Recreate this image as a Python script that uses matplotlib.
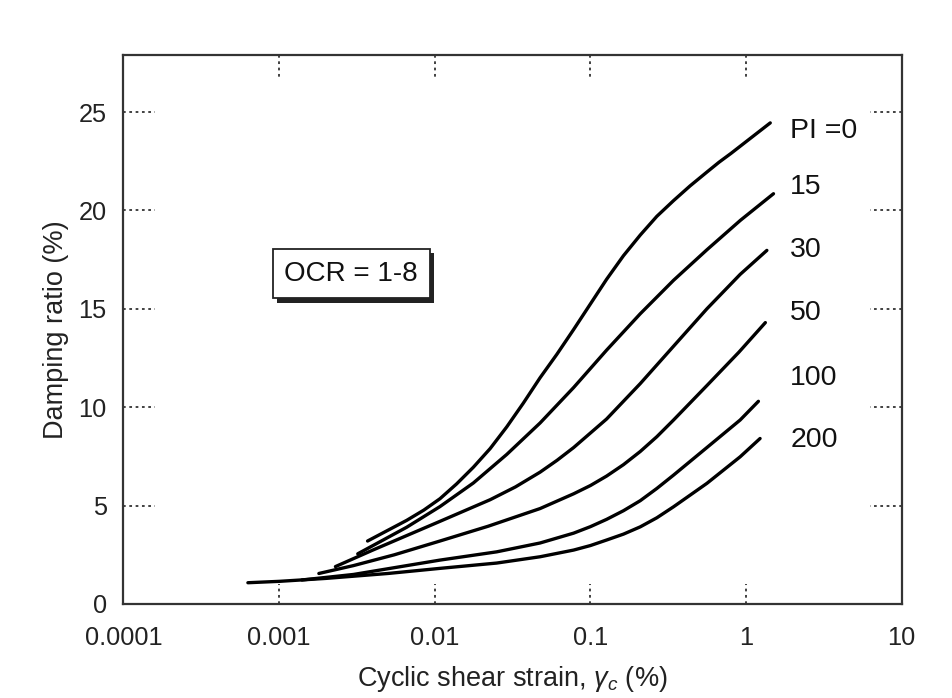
import numpy as np
import matplotlib
matplotlib.use("Agg")
import matplotlib.pyplot as plt
import matplotlib.patheffects as pe
from matplotlib.transforms import blended_transform_factory

plt.rcParams['font.family'] = ['Liberation Sans', 'DejaVu Sans']
plt.rcParams['mathtext.fontset'] = 'custom'
plt.rcParams['mathtext.rm'] = 'Liberation Sans'
plt.rcParams['mathtext.it'] = 'Liberation Sans:italic'

# damping curves (strain in %, damping in %)
pi_labels = ['PI =0', '15', '30', '50', '100', '200']

strain_pi0 = [0.0037, 0.0066, 0.0085, 0.0108, 0.0138, 0.0177, 0.0227, 0.029, 0.037, 0.0475, 0.061, 0.078,
              0.1, 0.127, 0.163, 0.209, 0.267, 0.342, 0.437, 0.56, 0.67, 0.8, 1.1, 1.43]
damp_pi0 = [3.2, 4.25, 4.77, 5.35, 6.1, 6.95, 7.9, 9.0, 10.2, 11.5, 12.7, 13.95,
            15.25, 16.5, 17.7, 18.75, 19.7, 20.5, 21.25, 21.95, 22.45, 22.9, 23.75, 24.45]

strain_pi15 = [0.0032, 0.0066, 0.0108, 0.0177, 0.029, 0.0475, 0.078, 0.127, 0.209, 0.342, 0.56, 0.92, 1.5]
damp_pi15 = [2.55, 3.9, 4.95, 6.15, 7.6, 9.2, 11.0, 12.9, 14.75, 16.45, 18.0, 19.5, 20.85]

strain_pi30 = [0.0023, 0.004, 0.0108, 0.0227, 0.033, 0.0475, 0.061, 0.078, 0.127, 0.209, 0.342, 0.56, 0.916, 1.36]
damp_pi30 = [1.9, 2.74, 4.2, 5.3, 5.95, 6.7, 7.3, 7.95, 9.4, 11.2, 13.1, 15.0, 16.75, 17.97]

strain_pi50 = [0.0018, 0.003, 0.0055, 0.0108, 0.022, 0.0475, 0.078, 0.1, 0.127, 0.163, 0.209, 0.267, 0.342,
               0.56, 0.9, 1.33]
damp_pi50 = [1.55, 1.95, 2.5, 3.2, 3.95, 4.85, 5.6, 6.02, 6.5, 7.08, 7.75, 8.5, 9.35,
             11.1, 12.8, 14.3]

strain_pi100 = [0.0014, 0.003, 0.0108, 0.025, 0.0475, 0.078, 0.1, 0.127, 0.163, 0.209, 0.267, 0.342,
                0.56, 0.916, 1.2]
damp_pi100 = [1.22, 1.5, 2.23, 2.65, 3.1, 3.6, 3.93, 4.3, 4.74, 5.25, 5.87, 6.55,
              7.95, 9.35, 10.3]

strain_pi200 = [0.00063, 0.001, 0.002, 0.005, 0.0108, 0.025, 0.0475, 0.078, 0.1, 0.127, 0.163, 0.209,
                0.267, 0.342, 0.56, 0.916, 1.23]
damp_pi200 = [1.08, 1.15, 1.3, 1.55, 1.81, 2.08, 2.4, 2.74, 2.97, 3.25, 3.55, 3.92,
              4.38, 4.94, 6.13, 7.48, 8.41]

# where the PI labels sit
label_x = [1.92, 1.92, 1.92, 1.92, 1.92, 1.92]
label_y = [24.06, 21.17, 17.97, 14.77, 11.47, 8.32]

xticks = [0.0001, 0.001, 0.01, 0.1, 1, 10]
xticklabels = ['0.0001', '0.001', '0.01', '0.1', '1', '10']
yticks = [0, 5, 10, 15, 20, 25]

fig = plt.figure(figsize=(9.52, 6.98), dpi=100)
ax = fig.add_axes([0.1297, 0.1347, 0.8175, 0.7865])

curves = [(strain_pi0, damp_pi0), (strain_pi15, damp_pi15), (strain_pi30, damp_pi30),
          (strain_pi50, damp_pi50), (strain_pi100, damp_pi100), (strain_pi200, damp_pi200)]
for xs, ys in curves:
    ax.plot(xs, ys, color='black', lw=2.4, solid_capstyle='round', solid_joinstyle='round')

for lab, lx, ly in zip(pi_labels, label_x, label_y):
    ax.text(lx, ly, lab, fontsize=20.5, va='center', ha='left', color='#111111')

ax.set_xscale('log')
ax.set_xlim(1e-4, 10)
ax.set_ylim(0, 27.9)

ax.set_xticks(xticks)
ax.set_xticklabels(xticklabels)
ax.set_yticks(yticks)
ax.minorticks_off()
ax.tick_params(axis='both', length=0, labelsize=18.3, colors='#222222')
ax.tick_params(axis='x', pad=16)
ax.tick_params(axis='y', pad=12)

for s in ax.spines.values():
    s.set_linewidth(1.6)
    s.set_color('#333333')

# dotted inward ticks
tx = blended_transform_factory(ax.transData, ax.transAxes)
ty = blended_transform_factory(ax.transAxes, ax.transData)
dot = dict(color='#333333', lw=1.3, linestyle=(0, (1.5, 2)))
for xv in xticks[1:-1]:
    ax.plot([xv, xv], [0, 0.036], transform=tx, clip_on=False, **dot)
    ax.plot([xv, xv], [1, 1 - 0.042], transform=tx, clip_on=False, **dot)
for yv in yticks:
    ax.plot([0, 0.041], [yv, yv], transform=ty, clip_on=False, **dot)
    ax.plot([1, 1 - 0.041], [yv, yv], transform=ty, clip_on=False, **dot)

ax.set_xlabel(r'Cyclic shear strain, $\gamma_c$ (%)', fontsize=19.5, labelpad=10, color='#222222')
ax.set_ylabel('Damping ratio (%)', fontsize=19.5, labelpad=7, color='#222222')

t = ax.text(0.0029, 16.78, 'OCR = 1-8', fontsize=20, ha='center', va='center', color='#111111',
            bbox=dict(boxstyle='square,pad=0.42', fc='white', ec='#222222', lw=1.3))
t.get_bbox_patch().set_path_effects([pe.withSimplePatchShadow(offset=(3, -3), shadow_rgbFace='#222222', alpha=1.0)])

fig.savefig('out.png', dpi=100, facecolor='white')
